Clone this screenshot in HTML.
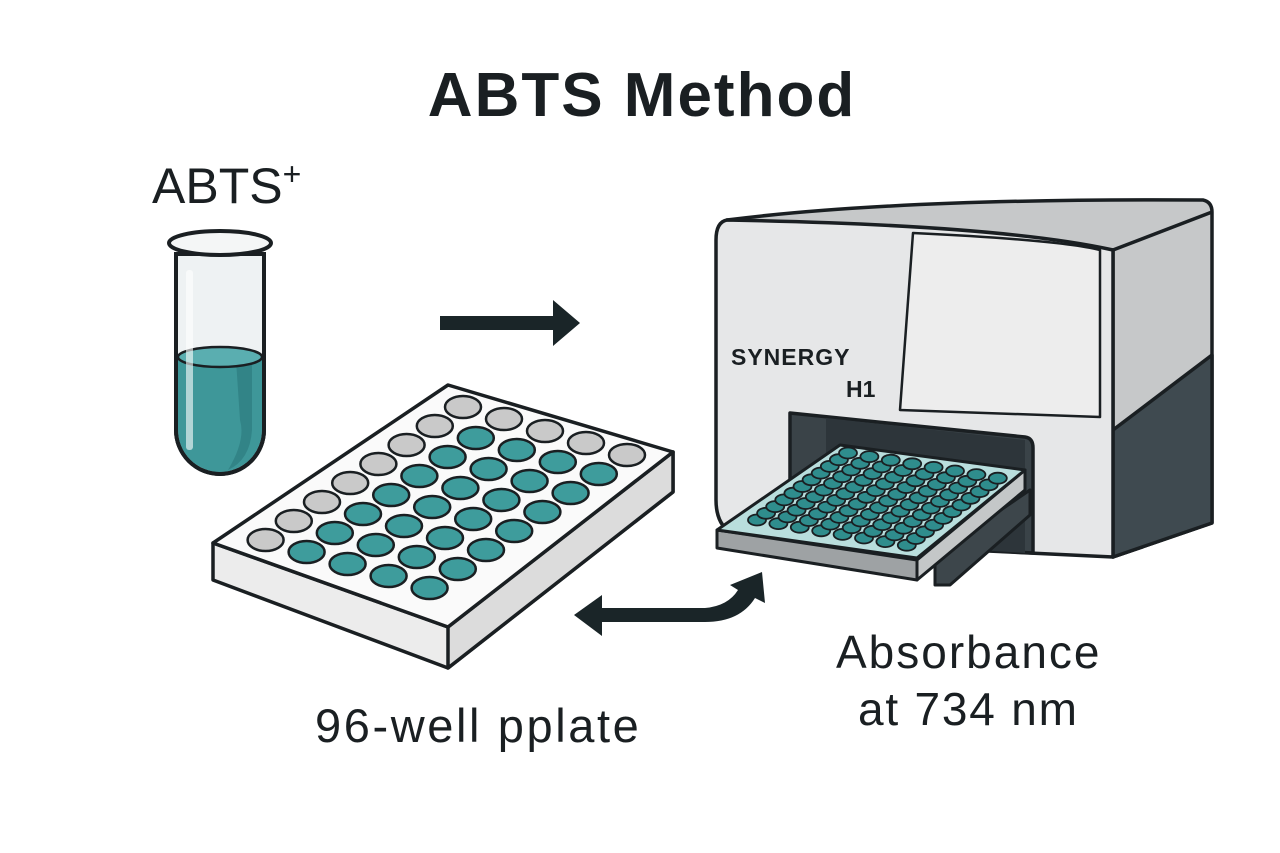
<!DOCTYPE html>
<html><head><meta charset="utf-8"><style>
html,body{margin:0;padding:0;background:#fff}
svg{display:block}
text{font-family:"Liberation Sans",sans-serif;fill:#1a1f22}
</style></head><body>
<svg id="s" width="1280" height="853" viewBox="0 0 1280 853" xmlns="http://www.w3.org/2000/svg">
<rect width="1280" height="853" fill="#fff"/>
<text x="642" y="116" font-size="62" font-weight="bold" text-anchor="middle" letter-spacing="2">ABTS Method</text>
<text x="152" y="203" font-size="50">ABTS<tspan font-size="32" dy="-18">+</tspan></text>

<!-- tube -->
<path d="M176 254 L176 430 A44 44 0 0 0 264 430 L264 254 Z" fill="#eef2f3" stroke="#1a1f22" stroke-width="4"/>
<path d="M178 357 Q220 348 262 357 L262 430 A42 42 0 0 1 178 430 Z" fill="#3e9799"/>
<path d="M236 360 L252 362 L252 430 Q250 460 228 470 Q246 440 240 420 Z" fill="#2f7f82" opacity="0.8"/>
<ellipse cx="220" cy="357" rx="42" ry="10" fill="#5aaeb0" stroke="#1a1f22" stroke-width="2.5"/>
<rect x="186" y="270" width="7" height="180" rx="3" fill="#fff" opacity="0.6"/>
<path d="M176 254 L176 430 A44 44 0 0 0 264 430 L264 254" fill="none" stroke="#1a1f22" stroke-width="4"/>
<ellipse cx="220" cy="243" rx="51" ry="12" fill="#f4f6f6" stroke="#1a1f22" stroke-width="4"/>

<!-- right arrow -->
<path d="M440 316 L553 316 L553 300 L580 323 L553 346 L553 330 L440 330 Z" fill="#1a2528"/>

<!-- plate -->
<g stroke="#1a1f22" stroke-width="3.5" stroke-linejoin="round">
<path d="M213 543 L213 580 L448 668 L673 492 L673 452 L448 627 Z" fill="#ececec"/>
<path d="M448 627 L448 668 L673 492 L673 452 Z" fill="#dcdcdc"/>
<path d="M448 385 L673 452 L448 627 L213 543 Z" fill="#fafafa"/>
</g>
<g id="wells" stroke="#1a1f22" stroke-width="2.5"></g>

<!-- machine -->
<g stroke="#1a1f22" stroke-width="3.5" stroke-linejoin="round">
<path d="M727 220 Q900 198 1203 200 Q1212 202 1212 212 L1212 523 L1113 557 L1113 250 Z" fill="#c6c8c9"/>
<path d="M1113 430 L1212 355 L1212 523 L1113 557 Z" fill="#3f4a50"/>
<path d="M1113 250 L1212 212" fill="none"/>
<path d="M727 220 Q1000 225 1113 250 L1113 557 L760 540 Q716 540 716 500 L716 240 Q716 222 727 220 Z" fill="#e6e7e8"/>
<path d="M913 233 Q1060 240 1100 250 L1100 417 L900 410 Z" fill="#ededed" stroke-width="2.5"/>
<path d="M790 413 L1025 437 Q1033 438 1033 448 L1033 553 L790 540 Z" fill="#3a4348"/>
<path d="M826 418 L1025 440 L1025 553 L826 540 Z" fill="#2d353a" stroke="none"/>
</g>
<text x="731" y="365" font-size="23" font-weight="bold" letter-spacing="1">SYNERGY</text>
<text x="846" y="397" font-size="23" font-weight="bold">H1</text>

<!-- tray -->
<g stroke="#1a1f22" stroke-width="3" stroke-linejoin="round">
<path d="M935 555 L1030 490 L1030 515 L950 585 L935 585 Z" fill="#3d464b"/>
<path d="M717 530 L717 548 L917 580 L917 560 Z" fill="#9ea2a4"/>
<path d="M917 560 L917 580 L1025 490 L1025 470 Z" fill="#c4c7c8"/>
<path d="M840 445 L1025 470 L917 558 L717 530 Z" fill="#b9dedd"/>
</g>
<g id="twells" stroke="#1a1f22" stroke-width="1.8"></g>

<!-- double arrow -->
<path d="M574 615 L602 595 L602 608 L705 608 Q728 606 738 590 L730 585 L762 572 L765 603 L755 598 Q740 622 705 622 L602 622 L602 636 Z" fill="#1a2528"/>

<text x="315" y="742" font-size="47" letter-spacing="2.6">96-well pplate</text>
<text x="836" y="668" font-size="46" letter-spacing="2">Absorbance</text>
<text x="858" y="725" font-size="46" letter-spacing="1.8">at 734 nm</text>
</svg>
<script>
var NS="http://www.w3.org/2000/svg";
var g=document.getElementById("wells");
for(var i=0;i<8;i++)for(var j=0;j<5;j++){
 var cx=463-28.2*i+41*j, cy=407+19*i+12*j;
 var e=document.createElementNS(NS,"ellipse");
 e.setAttribute("cx",cx);e.setAttribute("cy",cy);e.setAttribute("rx",18);e.setAttribute("ry",11);
 e.setAttribute("fill",(i==0||j==0)?"#c9c9c9":"#3e9c9c");g.appendChild(e);}
var t=document.getElementById("twells");
for(var i=0;i<8;i++)for(var j=0;j<11;j++){
 var cx=757+21.4*i+9.1*j, cy=520+3.6*i-6.7*j;
 var e=document.createElementNS(NS,"ellipse");
 e.setAttribute("cx",cx);e.setAttribute("cy",cy);e.setAttribute("rx",9);e.setAttribute("ry",5.5);
 e.setAttribute("fill","#2f8d8d");t.appendChild(e);}
</script>
</body></html>
